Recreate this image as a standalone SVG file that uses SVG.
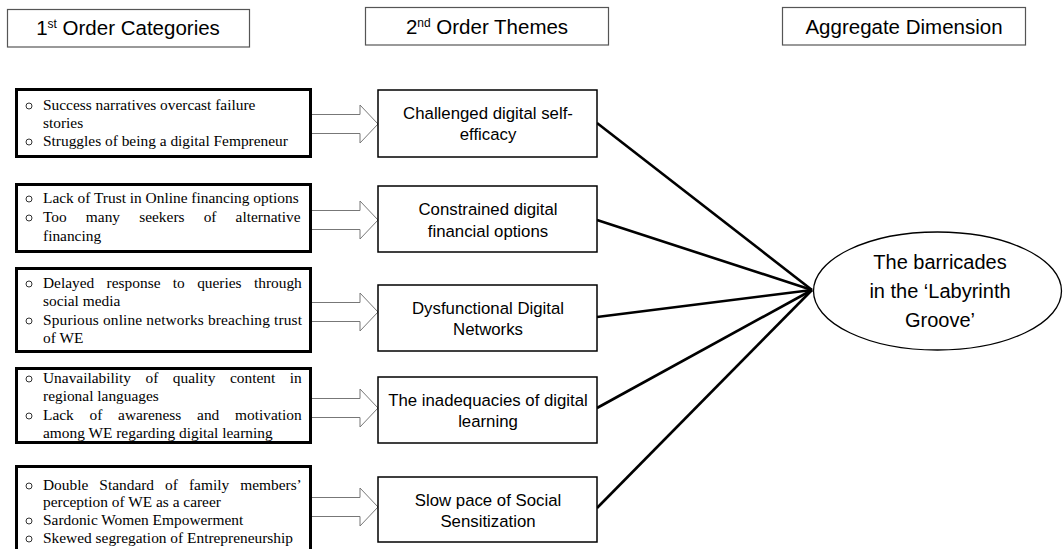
<svg xmlns="http://www.w3.org/2000/svg" width="1063" height="549" viewBox="0 0 1063 549">
<style>
.hdr{fill:#fff;stroke:#555;stroke-width:1.2}
.ht{font-family:"Liberation Sans",Arial,sans-serif;font-size:20.5px;fill:#000;text-anchor:middle}
.sup{font-size:12px}
.cat{fill:#fff;stroke:#000;stroke-width:3}
.ct{font-family:"Liberation Serif","Times New Roman",serif;font-size:15.4px;fill:#000}
.bul{fill:none;stroke:#000;stroke-width:0.8}
.th{fill:#fff;stroke:#000;stroke-width:1.5}
.tt{font-family:"Liberation Sans",Arial,sans-serif;font-size:16.8px;fill:#000;text-anchor:middle}
.blk{fill:#fff;stroke:#777;stroke-width:1}
.con{stroke:#000;stroke-width:2.6;fill:none}
.el{fill:#fff;stroke:#000;stroke-width:1.3}
.et{font-family:"Liberation Sans",Arial,sans-serif;font-size:20px;fill:#000;text-anchor:middle}
</style>
<rect width="1063" height="549" fill="#fff"/>

<g id="header-1st">
<rect class="hdr" x="7.5" y="9.5" width="242" height="37.5"/>
<text class="ht" x="128" y="35">1<tspan class="sup" dy="-7">st</tspan><tspan dy="7"> Order Categories</tspan></text>
</g>
<g id="header-2nd">
<rect class="hdr" x="365.5" y="7.5" width="243" height="37.5"/>
<text class="ht" x="487" y="34">2<tspan class="sup" dy="-7">nd</tspan><tspan dy="7"> Order Themes</tspan></text>
</g>
<g id="header-agg">
<rect class="hdr" x="782.5" y="7.5" width="243" height="37.5"/>
<text class="ht" x="904" y="34">Aggregate Dimension</text>
</g>

<g id="block-arrows">
<path class="blk" d="M312,114.5 L360,114.5 L360,105 L378,124 L360,143 L360,133.5 L312,133.5"/>
<path class="blk" d="M312,210.5 L360,210.5 L360,201 L378,220 L360,239 L360,229.5 L312,229.5"/>
<path class="blk" d="M312,302.5 L360,302.5 L360,293 L378,312 L360,331 L360,321.5 L312,321.5"/>
<path class="blk" d="M312,398.5 L360,398.5 L360,389 L378,408 L360,427 L360,417.5 L312,417.5"/>
<path class="blk" d="M312,497.5 L360,497.5 L360,488 L378,507 L360,526 L360,516.5 L312,516.5"/>
</g>

<g id="connectors">
<line class="con" x1="597" y1="123" x2="812" y2="290"/>
<line class="con" x1="597" y1="220" x2="812" y2="290"/>
<line class="con" x1="597" y1="317" x2="812" y2="290"/>
<line class="con" x1="597" y1="408" x2="812" y2="290"/>
<line class="con" x1="597" y1="508" x2="812" y2="290"/>
</g>

<g id="cat-1">
<rect class="cat" x="16.5" y="89.5" width="294" height="67"/>
<circle class="bul" cx="29" cy="106" r="3"/>
<circle class="bul" cx="29" cy="142" r="3"/>
<text class="ct" x="43" y="110">Success narratives overcast failure</text>
<text class="ct" x="43" y="128">stories</text>
<text class="ct" x="43" y="146">Struggles of being a digital Fempreneur</text>
</g>

<g id="cat-2">
<rect class="cat" x="16.5" y="184.5" width="294" height="67"/>
<circle class="bul" cx="29" cy="199" r="3"/>
<circle class="bul" cx="29" cy="218" r="3"/>
<text class="ct" x="43" y="203">Lack of Trust in Online financing options</text>
<text class="ct" x="43" y="222" word-spacing="15.3">Too many seekers of alternative</text>
<text class="ct" x="43" y="241">financing</text>
</g>

<g id="cat-3">
<rect class="cat" x="16.5" y="268.5" width="294" height="83"/>
<circle class="bul" cx="29" cy="284" r="3"/>
<circle class="bul" cx="29" cy="321" r="3"/>
<text class="ct" x="43" y="288" word-spacing="8.5">Delayed response to queries through</text>
<text class="ct" x="43" y="306">social media</text>
<text class="ct" x="43" y="325" textLength="259" lengthAdjust="spacing">Spurious online networks breaching trust</text>
<text class="ct" x="43" y="343">of WE</text>
</g>

<g id="cat-4">
<rect class="cat" x="16.5" y="368.5" width="294" height="74"/>
<circle class="bul" cx="29" cy="379" r="3"/>
<circle class="bul" cx="29" cy="416" r="3"/>
<text class="ct" x="43" y="383" word-spacing="10.6">Unavailability of quality content in</text>
<text class="ct" x="43" y="401">regional languages</text>
<text class="ct" x="43" y="420" word-spacing="11.9">Lack of awareness and motivation</text>
<text class="ct" x="43" y="438">among WE regarding digital learning</text>
</g>

<g id="cat-5">
<rect class="cat" x="16.5" y="466.5" width="294" height="90"/>
<circle class="bul" cx="29" cy="486" r="3"/>
<circle class="bul" cx="29" cy="521" r="3"/>
<circle class="bul" cx="29" cy="539" r="3"/>
<text class="ct" x="43" y="490" word-spacing="7.2">Double Standard of family members’</text>
<text class="ct" x="43" y="507">perception of WE as a career</text>
<text class="ct" x="43" y="525">Sardonic Women Empowerment</text>
<text class="ct" x="43" y="543">Skewed segregation of Entrepreneurship</text>
</g>

<g id="theme-1">
<rect class="th" x="378" y="90" width="219" height="67"/>
<text class="tt" x="488" y="119">Challenged digital self-</text>
<text class="tt" x="488" y="140">efficacy</text>
</g>
<g id="theme-2">
<rect class="th" x="378" y="186" width="219" height="66"/>
<text class="tt" x="488" y="215">Constrained digital</text>
<text class="tt" x="488" y="237">financial options</text>
</g>
<g id="theme-3">
<rect class="th" x="378" y="285" width="219" height="66"/>
<text class="tt" x="488" y="314">Dysfunctional Digital</text>
<text class="tt" x="488" y="335">Networks</text>
</g>
<g id="theme-4">
<rect class="th" x="378" y="377" width="219" height="66"/>
<text class="tt" x="488" y="406">The inadequacies of digital</text>
<text class="tt" x="488" y="427">learning</text>
</g>
<g id="theme-5">
<rect class="th" x="378" y="477" width="219" height="65"/>
<text class="tt" x="488" y="506">Slow pace of Social</text>
<text class="tt" x="488" y="527">Sensitization</text>
</g>

<g id="aggregate">
<ellipse class="el" cx="937.5" cy="291" rx="124" ry="59"/>
<text class="et" x="940" y="269">The barricades</text>
<text class="et" x="940" y="298">in the ‘Labyrinth</text>
<text class="et" x="940" y="327">Groove’</text>
</g>
</svg>
